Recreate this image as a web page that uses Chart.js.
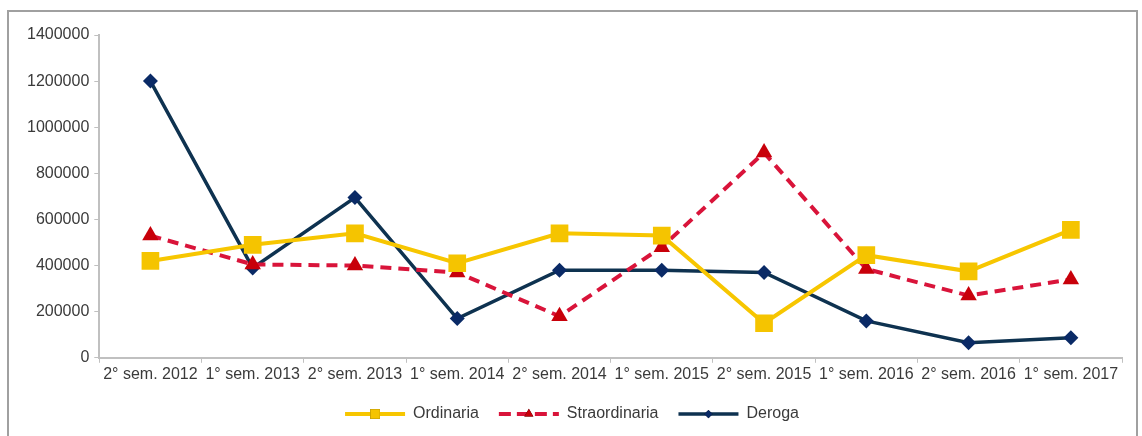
<!DOCTYPE html>
<html>
<head>
<meta charset="utf-8">
<script src="https://cdn.jsdelivr.net/npm/chart.js@4/dist/chart.umd.min.js"></script>
<style>
  html, body { margin: 0; padding: 0; background: #fff; overflow: hidden; }
  #wrap { position: relative; width: 1142px; height: 436px; overflow: hidden; }
  #frame { position: absolute; left: 7px; top: 10px; width: 1131px; height: 440px; border: 2px solid #a0a0a0; box-sizing: border-box; pointer-events: none; }
</style>
</head>
<body>
<div id="wrap">
  <canvas id="chart" width="1142" height="434"></canvas>
  <div id="frame"></div>
</div>
<script>
const labels = ['2° sem. 2012', '1° sem. 2013', '2° sem. 2013', '1° sem. 2014', '2° sem. 2014',
                '1° sem. 2015', '2° sem. 2015', '1° sem. 2016', '2° sem. 2016', '1° sem. 2017'];
const ordinaria = [420000, 490000, 540000, 410000, 540000, 530000, 150000, 445000, 375000, 555000];
const straordinaria = [530000, 405000, 400000, 370000, 180000, 480000, 890000, 385000, 270000, 340000];
const deroga = [1200000, 390000, 695000, 170000, 380000, 380000, 370000, 160000, 65000, 87000];

Chart.defaults.font.family = '"Liberation Sans", Arial, sans-serif';
Chart.defaults.font.size = 16;
Chart.defaults.color = '#3a3a3a';

// draws the series marker in the middle of each legend line sample
const legendMarkers = {
    id: 'legendMarkers',
    afterDraw(chart) {
        const legend = chart.legend;
        if (!legend || !legend.legendHitBoxes) return;
        const ctx = chart.ctx;
        const boxW = legend.options.labels.boxWidth;
        legend.legendHitBoxes.forEach((box, i) => {
            const ds = chart.data.datasets[i];
            const cx = box.left + boxW / 2;
            const cy = box.top + box.height / 2;
            ctx.save();
            ctx.setLineDash([]);
            Chart.helpers.drawPoint(ctx, {
                pointStyle: ds.pointStyle,
                radius: ds.pointRadius * 0.55,
                borderWidth: 0
            }, cx, cy);
            ctx.fillStyle = ds.pointBackgroundColor;
            ctx.fill();
            ctx.restore();
        });
    }
};

new Chart(document.getElementById('chart'), {
    type: 'line',
    data: {
        labels: labels,
        datasets: [
            {
                label: 'Ordinaria',
                data: ordinaria,
                borderColor: '#f7c600',
                backgroundColor: '#f7c600',
                borderWidth: 4,
                pointStyle: 'rect',
                pointRadius: 12.5,
                pointBackgroundColor: '#f5c400',
                pointBorderColor: '#f5c400',
                pointBorderWidth: 0,
                tension: 0
            },
            {
                label: 'Straordinaria',
                data: straordinaria,
                borderColor: '#d9143a',
                backgroundColor: '#d9143a',
                borderWidth: 4,
                borderDash: [11, 7],
                pointStyle: 'triangle',
                pointRadius: 9.5,
                pointBackgroundColor: '#c8000a',
                pointBorderColor: '#c8000a',
                pointBorderWidth: 0,
                tension: 0
            },
            {
                label: 'Deroga',
                data: deroga,
                borderColor: '#0e3250',
                backgroundColor: '#0e3250',
                borderWidth: 3.5,
                pointStyle: 'rectRot',
                pointRadius: 7.5,
                pointBackgroundColor: '#0a2a66',
                pointBorderColor: '#0a2a66',
                pointBorderWidth: 0,
                tension: 0
            }
        ]
    },
    options: {
        responsive: false,
        animation: false,
        layout: { padding: { left: 22, right: 20, top: 35, bottom: 2 } },
        plugins: {
            tooltip: { enabled: false },
            legend: {
                position: 'bottom',
                labels: {
                    boxWidth: 60,
                    boxHeight: 0,
                    padding: 20,
                    color: '#3a3a3a'
                }
            }
        },
        scales: {
            x: {
                offset: true,
                grid: {
                    offset: true,
                    drawOnChartArea: false,
                    color: '#c0c0c0',
                    tickLength: 5
                },
                border: { color: '#c0c0c0', width: 2 },
                ticks: { maxRotation: 0, autoSkip: false, padding: 2 }
            },
            y: {
                min: 0,
                max: 1400000,
                grid: {
                    drawOnChartArea: false,
                    color: '#c0c0c0',
                    tickLength: 5
                },
                border: { color: '#c0c0c0', width: 2 },
                ticks: { stepSize: 200000, padding: 5, callback: v => String(v) }
            }
        }
    },
    plugins: [legendMarkers]
});
</script>
</body>
</html>
